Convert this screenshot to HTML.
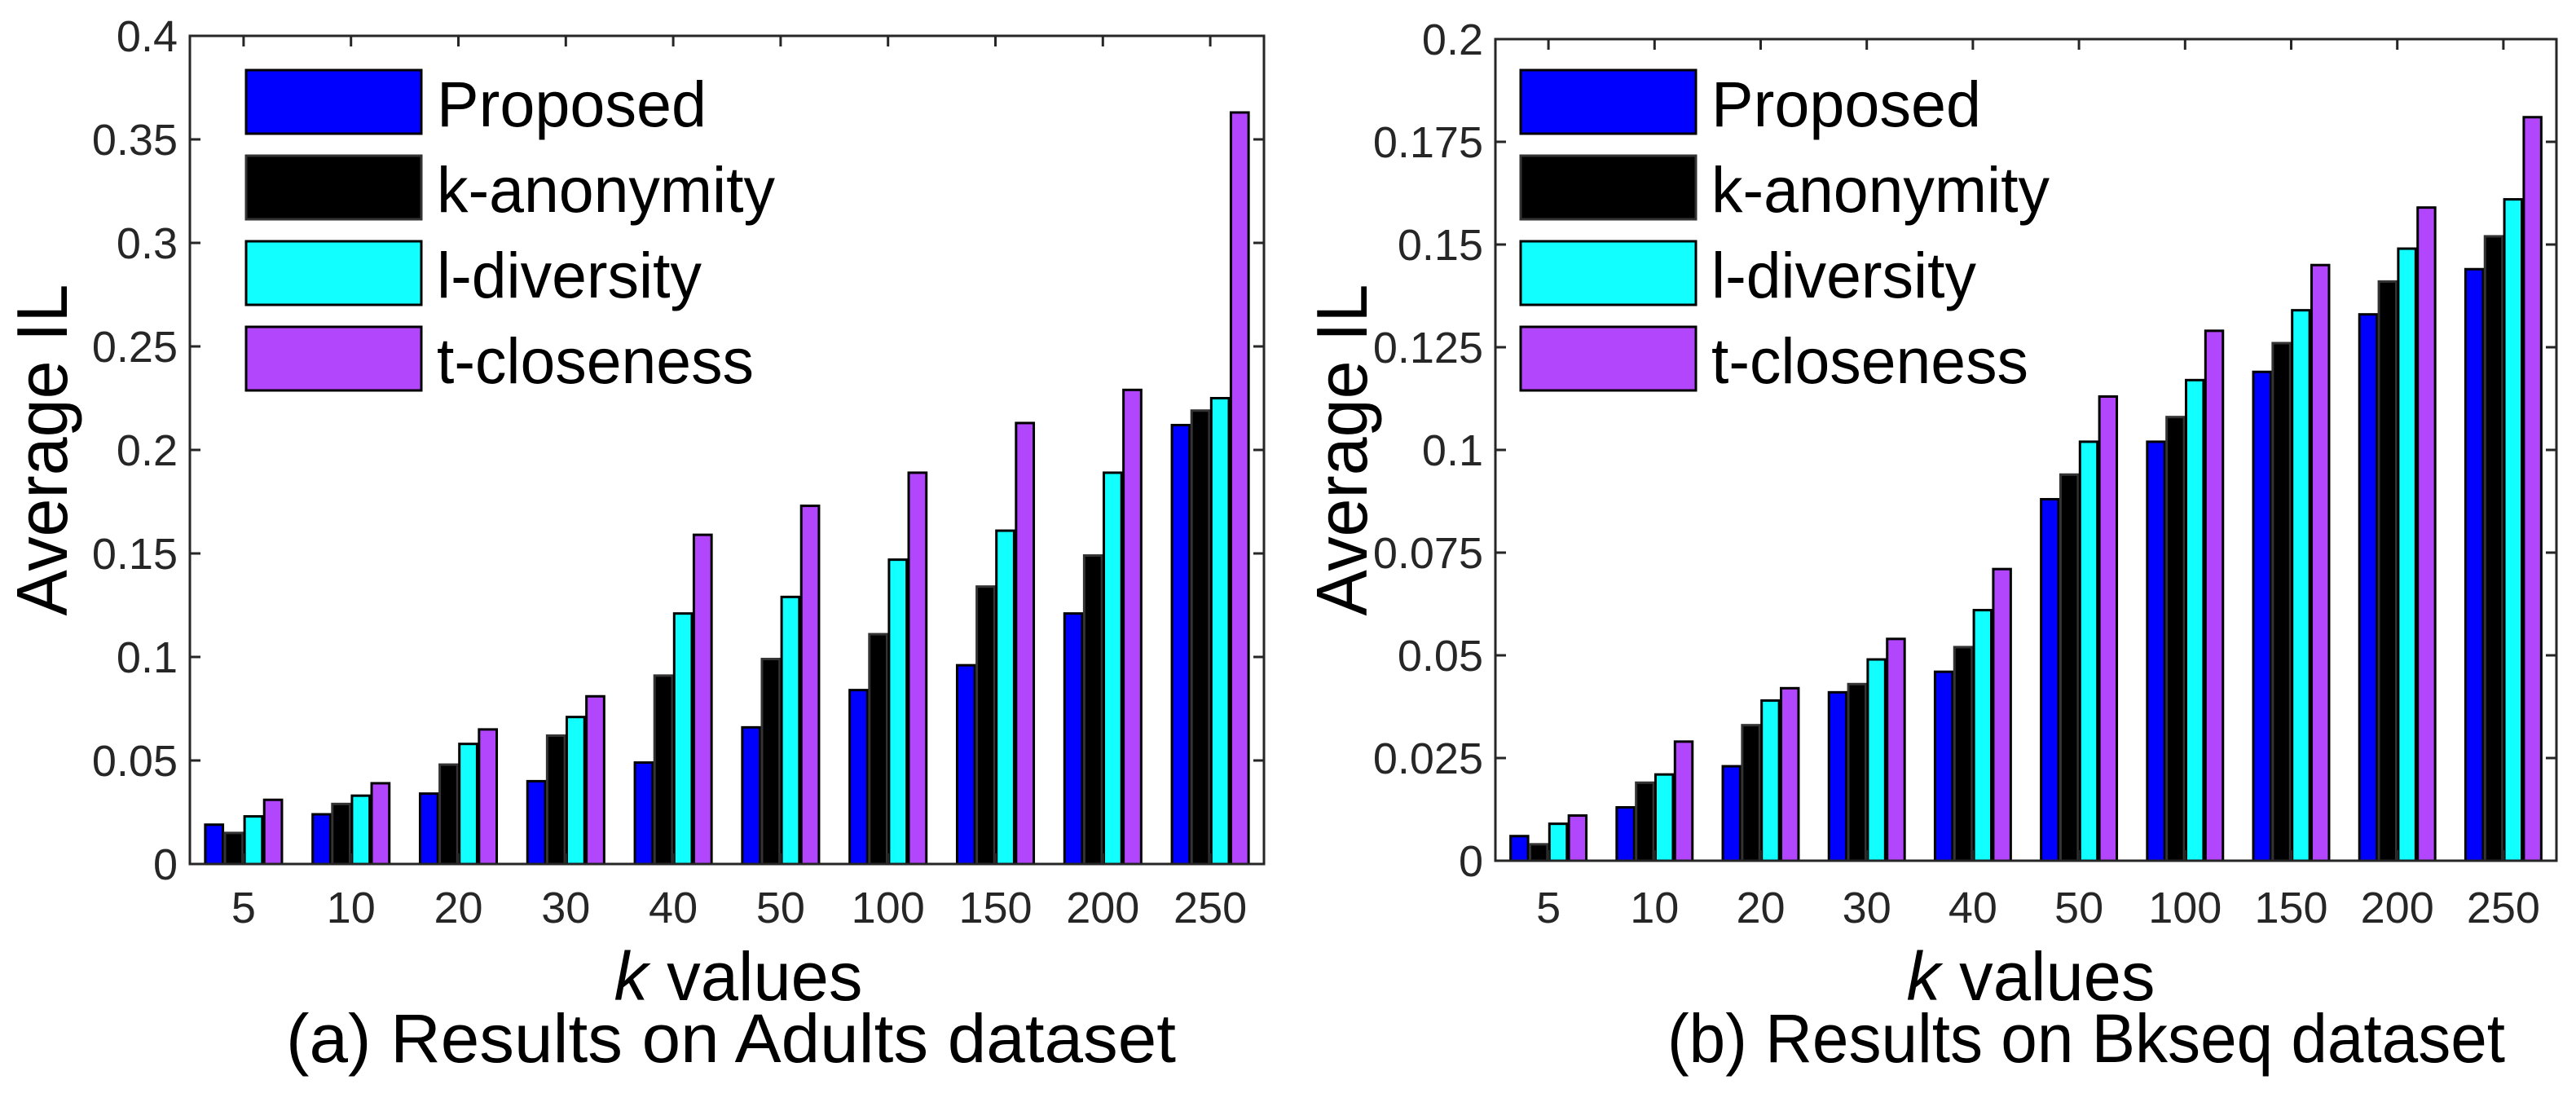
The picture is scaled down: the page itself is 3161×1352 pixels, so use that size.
<!DOCTYPE html>
<html><head><meta charset="utf-8"><style>
html,body{margin:0;padding:0;background:#fff;}
svg{display:block;font-family:"Liberation Sans",Arial,sans-serif;}
</style></head><body>
<svg id="fig" width="3161" height="1352" viewBox="0 0 3161 1352" xmlns="http://www.w3.org/2000/svg"></svg>
<script>
const categories = ["5","10","20","30","40","50","100","150","200","250"];
const seriesNames = ["Proposed","k-anonymity","l-diversity","t-closeness"];
const adultsProposed = [0.019,0.024,0.034,0.040,0.049,0.066,0.084,0.096,0.121,0.212];
const adultsKanon    = [0.015,0.029,0.048,0.062,0.091,0.099,0.111,0.134,0.149,0.219];
const adultsLdiv     = [0.023,0.033,0.058,0.071,0.121,0.129,0.147,0.161,0.189,0.225];
const adultsTclose   = [0.031,0.039,0.065,0.081,0.159,0.173,0.189,0.213,0.229,0.363];
const bkseqProposed = [0.006,0.013,0.023,0.041,0.046,0.088,0.102,0.119,0.133,0.144];
const bkseqKanon    = [0.004,0.019,0.033,0.043,0.052,0.094,0.108,0.126,0.141,0.152];
const bkseqLdiv     = [0.009,0.021,0.039,0.049,0.061,0.102,0.117,0.134,0.149,0.161];
const bkseqTclose   = [0.011,0.029,0.042,0.054,0.071,0.113,0.129,0.145,0.159,0.181];
const adultsTicks = ["0","0.05","0.1","0.15","0.2","0.25","0.3","0.35","0.4"];
const bkseqTicks = ["0","0.025","0.05","0.075","0.1","0.125","0.15","0.175","0.2"];

const NS="http://www.w3.org/2000/svg";
const svg=document.getElementById('fig');
const colors=["#0000ff","#000000","#11ffff","#b246fc"];
function mk(tag,attrs,parent){const e=document.createElementNS(NS,tag);for(const k in attrs)e.setAttribute(k,attrs[k]);(parent||svg).appendChild(e);return e;}

function panel(cfg){
  const g=mk('g',{});
  
  
  const {L,R,T,B,ymax}=cfg;
  const n=categories.length, p=(R-L)/n;
  const xc=i=>L+(i+0.5)*p;
  const y=v=>B-(v/ymax)*(B-T);
  const pitch=p*0.183, bw=pitch*0.9;
  cfg.series.forEach((arr,s)=>{
    arr.forEach((v,i)=>{
      const cx=xc(i)+(s-1.5)*pitch;
      const r=mk('rect',{x:cx-bw/2,y:y(v),width:bw,height:B-y(v),fill:colors[s],stroke:s==1?'#333':'#000','stroke-width':3},g);
      
      
    });
  });
  // axes box
  const ax=mk('rect',{x:L,y:T,width:R-L,height:B-T,fill:'none',stroke:'#262626','stroke-width':3},g);
  
  
  // y ticks
  cfg.ticks.forEach((t,i)=>{
    const yy=y(parseFloat(t));
    mk('line',{x1:L,x2:L+13,y1:yy,y2:yy,stroke:'#262626','stroke-width':3},g);
    mk('line',{x1:R,x2:R-13,y1:yy,y2:yy,stroke:'#262626','stroke-width':3},g);
    const tx=mk('text',{x:L-15,y:yy+19,'text-anchor':'end','font-size':54,fill:'#262626'},g);
    tx.textContent=t;
    
    
  });
  categories.forEach((c,i)=>{
    const xx=xc(i);
    mk('line',{x1:xx,x2:xx,y1:B,y2:B-13,stroke:'#262626','stroke-width':3},g);
    mk('line',{x1:xx,x2:xx,y1:T,y2:T+13,stroke:'#262626','stroke-width':3},g);
    const tx=mk('text',{x:xx,y:1132,'text-anchor':'middle','font-size':54,fill:'#262626'},g);
    tx.textContent=c;
    
    
  });
  // y label
  const yl=mk('text',{x:0,y:0,'text-anchor':'middle','font-size':88,fill:'#000',textLength:407,lengthAdjust:'spacingAndGlyphs',transform:`translate(${cfg.ylx},552) rotate(-90)`},g);
  yl.textContent='Average IL';
  
  
  // x label
  const xl=mk('text',{x:cfg.xlc,y:1227,'text-anchor':'middle','font-size':84,fill:'#000',textLength:305,lengthAdjust:'spacingAndGlyphs'},g);
  const ti=mk('tspan',{'font-style':'italic'},xl);ti.textContent='k';
  const tv=mk('tspan',{},xl);tv.textContent=' values';
  
  
  const cap=mk('text',{x:cfg.capc,y:1303,'text-anchor':'middle','font-size':84,fill:'#000',textLength:cfg.capw,lengthAdjust:'spacingAndGlyphs'},g);
  cap.textContent=cfg.caption;
  
  
  // legend
  const widths=[331,415,325,389];
  seriesNames.forEach((nm,s)=>{
    const ly=86+s*105;
    const lr=mk('rect',{x:cfg.legX,y:ly,width:215,height:78,fill:colors[s],stroke:s==1?'#333':'#000','stroke-width':3},g);
    
    
    const lt=mk('text',{x:cfg.legX+234,y:ly+69,'font-size':79,fill:'#000',textLength:widths[s],lengthAdjust:'spacingAndGlyphs'},g);
    lt.textContent=nm;
    
    
  });
}
panel({name:'adults-chart',L:233,R:1551,T:44,B:1060,ymax:0.4,ticks:adultsTicks,
  series:[adultsProposed,adultsKanon,adultsLdiv,adultsTclose],ylx:82,xlc:906,capc:897,capw:1092,
  caption:'(a) Results on Adults dataset',legX:302});
panel({name:'bkseq-chart',L:1835,R:3137,T:48,B:1056,ymax:0.2,ticks:bkseqTicks,
  series:[bkseqProposed,bkseqKanon,bkseqLdiv,bkseqTclose],ylx:1677,xlc:2492,capc:2560,capw:1028,
  caption:'(b) Results on Bkseq dataset',legX:1866});
</script>
</body></html>
